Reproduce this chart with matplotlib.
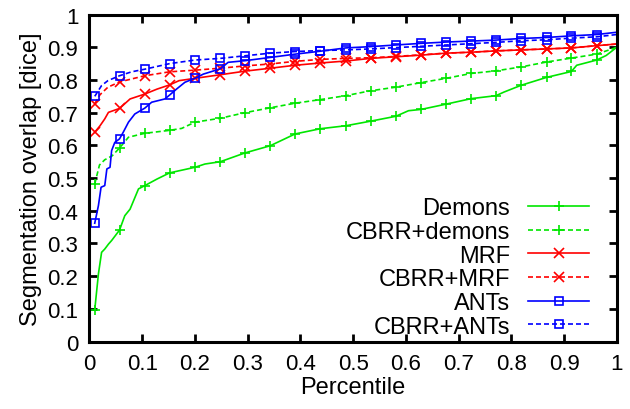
#!/usr/bin/env python3
import numpy as np
import matplotlib
matplotlib.use('Agg')
import matplotlib.pyplot as plt

# percentile positions where gnuplot put a point symbol
MARK_X = [0.01, 0.057, 0.105, 0.152, 0.200, 0.248, 0.295, 0.343, 0.390, 0.438,
          0.486, 0.533, 0.581, 0.629, 0.676, 0.724, 0.771, 0.819, 0.867, 0.914, 0.962]

demons_x = [0.01, 0.017, 0.023, 0.029, 0.036, 0.042, 0.057, 0.067, 0.077, 0.093,
            0.105, 0.128, 0.152, 0.200, 0.219, 0.248, 0.295, 0.343, 0.390, 0.438,
            0.486, 0.533, 0.581, 0.605, 0.629, 0.676, 0.724, 0.771, 0.786, 0.819,
            0.867, 0.914, 0.924, 0.962, 0.98, 1.0]
demons_y = [0.097, 0.207, 0.273, 0.283, 0.298, 0.309, 0.341, 0.385, 0.405, 0.467,
            0.477, 0.497, 0.516, 0.533, 0.543, 0.550, 0.577, 0.599, 0.635, 0.651,
            0.660, 0.674, 0.689, 0.706, 0.710, 0.726, 0.743, 0.752, 0.763, 0.784,
            0.808, 0.826, 0.845, 0.861, 0.875, 0.900]

cbrr_demons_x = [0.01, 0.019, 0.029, 0.043, 0.057, 0.074, 0.105, 0.152, 0.175, 0.200,
                 0.248, 0.295, 0.343, 0.390, 0.438, 0.486, 0.533, 0.581, 0.629, 0.676,
                 0.724, 0.771, 0.819, 0.867, 0.914, 0.962, 1.0]
cbrr_demons_y = [0.482, 0.540, 0.556, 0.568, 0.592, 0.625, 0.637, 0.646, 0.652, 0.671,
                 0.683, 0.700, 0.715, 0.729, 0.740, 0.752, 0.767, 0.778, 0.792, 0.805,
                 0.820, 0.828, 0.840, 0.855, 0.867, 0.879, 0.900]

mrf_x = [0.01, 0.02, 0.029, 0.036, 0.057, 0.077, 0.105, 0.128, 0.152, 0.17,
         0.200, 0.248, 0.295, 0.343, 0.390, 0.438, 0.486, 0.533, 0.581, 0.629,
         0.676, 0.724, 0.771, 0.819, 0.867, 0.914, 0.962, 1.0]
mrf_y = [0.640, 0.660, 0.681, 0.701, 0.713, 0.742, 0.757, 0.772, 0.785, 0.798,
         0.805, 0.816, 0.827, 0.836, 0.845, 0.852, 0.858, 0.866, 0.871, 0.876,
         0.882, 0.885, 0.889, 0.892, 0.895, 0.898, 0.905, 0.910]

cbrr_mrf_x = [0.01, 0.02, 0.035, 0.057, 0.105, 0.152, 0.200, 0.248, 0.295, 0.343,
              0.390, 0.438, 0.486, 0.533, 0.581, 0.629, 0.676, 0.724, 0.771, 0.819,
              0.867, 0.914, 0.962, 1.0]
cbrr_mrf_y = [0.727, 0.755, 0.778, 0.794, 0.813, 0.825, 0.830, 0.836, 0.843, 0.849,
              0.857, 0.863, 0.866, 0.868, 0.872, 0.877, 0.882, 0.885, 0.889, 0.892,
              0.895, 0.898, 0.905, 0.910]

ants_x = [0.01, 0.017, 0.022, 0.029, 0.033, 0.039, 0.042, 0.048, 0.057, 0.064,
          0.074, 0.086, 0.105, 0.118, 0.143, 0.152, 0.165, 0.181, 0.200, 0.216,
          0.248, 0.263, 0.295, 0.343, 0.390, 0.438, 0.486, 0.533, 0.581, 0.629,
          0.676, 0.724, 0.771, 0.819, 0.867, 0.914, 0.962, 1.0]
ants_y = [0.362, 0.416, 0.472, 0.477, 0.528, 0.533, 0.584, 0.609, 0.620, 0.640,
          0.671, 0.696, 0.714, 0.732, 0.742, 0.754, 0.772, 0.793, 0.805, 0.818,
          0.834, 0.854, 0.859, 0.869, 0.879, 0.888, 0.898, 0.902, 0.907, 0.912,
          0.916, 0.919, 0.922, 0.927, 0.930, 0.935, 0.939, 0.946]

cbrr_ants_x = [0.01, 0.023, 0.035, 0.057, 0.08, 0.105, 0.152, 0.200, 0.248, 0.295,
               0.343, 0.390, 0.438, 0.486, 0.533, 0.581, 0.629, 0.676, 0.724, 0.771,
               0.819, 0.867, 0.914, 0.962, 1.0]
cbrr_ants_y = [0.750, 0.783, 0.798, 0.813, 0.825, 0.833, 0.850, 0.861, 0.866, 0.874,
               0.882, 0.887, 0.890, 0.892, 0.895, 0.899, 0.903, 0.907, 0.911, 0.915,
               0.920, 0.923, 0.928, 0.932, 0.939]

GREEN = '#00e600'
RED = '#ff0000'
BLUE = '#0000ff'
DASH = (0, (3.0, 1.8))

series = [
    ('Demons', demons_x, demons_y, GREEN, '-', '+'),
    ('CBRR+demons', cbrr_demons_x, cbrr_demons_y, GREEN, DASH, '+'),
    ('MRF', mrf_x, mrf_y, RED, '-', 'x'),
    ('CBRR+MRF', cbrr_mrf_x, cbrr_mrf_y, RED, DASH, 'x'),
    ('ANTs', ants_x, ants_y, BLUE, '-', 's'),
    ('CBRR+ANTs', cbrr_ants_x, cbrr_ants_y, BLUE, DASH, 's'),
]

plt.rcParams['font.family'] = ['Liberation Sans', 'DejaVu Sans']
plt.rcParams['font.size'] = 16

fig = plt.figure(figsize=(6.3, 4.1), dpi=100)
ax = fig.add_axes([0.142, 0.1644, 0.837, 0.7976])

for label, xs, ys, color, ls, marker in series:
    xs = np.array(xs)
    marks = [i for i, x in enumerate(xs) if np.any(np.isclose(x, MARK_X))]
    ms = 5.5 if marker == 's' else 7
    ax.plot(xs, ys, color=color, linestyle=ls, linewidth=1.2, marker=marker,
            markevery=marks, markersize=ms, markerfacecolor='none',
            markeredgecolor=color, markeredgewidth=1.2, label=label)

ax.set_xlim(0, 1)
ax.set_ylim(0, 1)
ax.set_xticks(np.arange(0, 1.01, 0.1))
ax.set_yticks(np.arange(0, 1.01, 0.1))
ax.set_xticklabels(['0', '0.1', '0.2', '0.3', '0.4', '0.5', '0.6', '0.7', '0.8', '0.9', '1'])
ax.set_yticklabels(['0', '0.1', '0.2', '0.3', '0.4', '0.5', '0.6', '0.7', '0.8', '0.9', '1'])
ax.tick_params(direction='in', length=6, width=2, top=True, right=True, pad=8,
               labelsize=16)
for sp in ax.spines.values():
    sp.set_linewidth(2.2)

ax.set_xlabel('Percentile', fontsize=17, labelpad=2)
ax.set_ylabel('Segmentation overlap [dice]', fontsize=17, labelpad=4)

leg = ax.legend(loc='lower right', bbox_to_anchor=(0.948, 0.012), frameon=False,
                markerfirst=False, numpoints=1, handlelength=2.6, fontsize=17,
                handletextpad=0.75, labelspacing=0.07, borderpad=0, borderaxespad=0)

fig.savefig('out.png', dpi=100)
